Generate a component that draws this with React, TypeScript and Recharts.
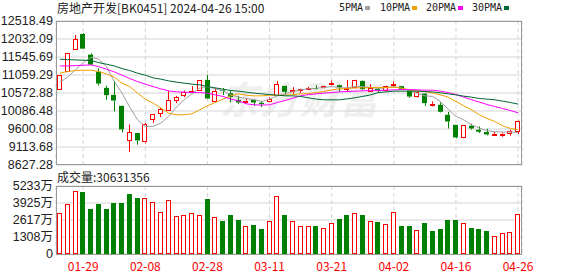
import { Bar, CartesianGrid, ComposedChart, Line, XAxis, YAxis } from 'recharts'

const dates = [
  '01-24', '01-25', '01-26', '01-29', '01-30', '01-31', '02-01', '02-02', '02-05', '02-06',
  '02-07', '02-08', '02-19', '02-20', '02-21', '02-22', '02-23', '02-26', '02-27', '02-28',
  '02-29', '03-01', '03-04', '03-05', '03-06', '03-07', '03-08', '03-11', '03-12', '03-13',
  '03-14', '03-15', '03-18', '03-19', '03-20', '03-21', '03-22', '03-25', '03-26', '03-27',
  '03-28', '03-29', '04-01', '04-02', '04-03', '04-08', '04-09', '04-10', '04-11', '04-12',
  '04-15', '04-16', '04-17', '04-18', '04-19', '04-22', '04-23', '04-24', '04-25', '04-26',
]

const opens = [
  10650, 11135, 11736, 12168, 11610, 11151, 10712, 10523, 10226, 9275,
  9491, 9237, 9849, 10011, 10084, 10353, 10496, 10604, 10623, 10927,
  10326, 10650, 10569, 10388, 10316, 10388, 10308, 10334, 10496, 10766,
  10596, 10631, 10690, 10704, 10704, 10793, 10785, 10677, 10693, 10900,
  10612, 10677, 10631, 10747, 10758, 10631, 10461, 10558, 10219, 10254,
  9984, 9714, 9356, 9687, 9580, 9518, 9462, 9470, 9464, 9518,
]
const highs = [
  11062, 11647, 12141, 12190, 11647, 11243, 10774, 10900, 10230, 9722,
  9491, 9760, 10003, 10181, 10623, 10496, 10639, 10758, 10919, 11062,
  10700, 10704, 10631, 10496, 10415, 10400, 10362, 10461, 10900, 10770,
  10731, 10690, 10740, 10785, 10770, 10909, 10800, 10927, 10930, 10910,
  10812, 10700, 10770, 10893, 10770, 10640, 10610, 10570, 10343, 10316,
  10065, 9714, 9700, 9741, 9668, 9607, 9530, 9510, 9580, 9830,
]
const lows = [
  10650, 11135, 11736, 11771, 11340, 10774, 10388, 10073, 9507, 8978,
  9175, 9210, 9760, 9922, 10084, 10299, 10461, 10569, 10623, 10423,
  10326, 10520, 10316, 10272, 10300, 10226, 10192, 10320, 10496, 10523,
  10550, 10577, 10650, 10670, 10690, 10780, 10612, 10604, 10680, 10650,
  10600, 10580, 10620, 10730, 10650, 10442, 10450, 10226, 10210, 10050,
  9615, 9345, 9350, 9580, 9490, 9426, 9420, 9390, 9418, 9464,
]
const closes = [
  11062, 11647, 12025, 11771, 11340, 10828, 10515, 10369, 9588, 9518,
  9291, 9733, 10003, 10137, 10388, 10461, 10604, 10631, 10919, 10423,
  10631, 10630, 10461, 10316, 10370, 10316, 10272, 10424, 10811, 10604,
  10650, 10685, 10704, 10690, 10758, 10846, 10731, 10720, 10919, 10677,
  10712, 10631, 10758, 10812, 10666, 10477, 10604, 10299, 10280, 10065,
  9804, 9372, 9695, 9615, 9526, 9453, 9470, 9478, 9545, 9814,
]

const ma5 = [
  10866, 11001, 11197, 11394, 11540, 11486, 11286, 10882, 10569, 10192,
  9849, 9669, 9669, 9760, 9938, 10192, 10389, 10550, 10704, 10747,
  10685, 10639, 10523, 10461, 10424, 10389, 10343, 10408, 10496, 10550,
  10612, 10658, 10685, 10704, 10720, 10747, 10720, 10712, 10747, 10747,
  10720, 10693, 10720, 10747, 10704, 10639, 10569, 10496, 10480, 10343,
  10138, 9938, 9849, 9715, 9626, 9553, 9526, 9518, 9518, 9507,
]
const ma10 = [
  11108, 11152, 11179, 11189, 11189, 11152, 11090, 11001, 10839, 10747,
  10569, 10408, 10300, 10165, 10030, 9984, 9984, 10011, 10119, 10227,
  10316, 10408, 10496, 10550, 10515, 10496, 10496, 10515, 10505, 10515,
  10531, 10550, 10558, 10585, 10612, 10658, 10685, 10693, 10712, 10712,
  10720, 10720, 10720, 10731, 10704, 10658, 10631, 10612, 10569, 10523,
  10461, 10343, 10227, 10119, 9984, 9884, 9803, 9688, 9615, 9580,
]
const ma20 = [
  11305, 11305, 11313, 11324, 11332, 11286, 11216, 11144, 11055, 10963,
  10882, 10812, 10747, 10685, 10631, 10604, 10596, 10585, 10585, 10569,
  10523, 10480, 10408, 10362, 10281, 10254, 10246, 10254, 10316, 10370,
  10434, 10496, 10531, 10550, 10569, 10585, 10604, 10612, 10623, 10631,
  10639, 10639, 10650, 10658, 10666, 10666, 10658, 10650, 10650, 10623,
  10585, 10531, 10461, 10389, 10327, 10262, 10208, 10154, 10100, 10038,
]
const ma30 = [
  11486, 11475, 11467, 11459, 11448, 11394, 11351, 11305, 11232, 11179,
  11108, 11055, 10982, 10947, 10901, 10866, 10839, 10812, 10793, 10747,
  10712, 10677, 10639, 10623, 10596, 10569, 10550, 10531, 10515, 10496,
  10496, 10480, 10443, 10408, 10389, 10389, 10389, 10415, 10443, 10480,
  10523, 10585, 10604, 10623, 10623, 10623, 10623, 10612, 10604, 10577,
  10550, 10523, 10488, 10461, 10424, 10408, 10389, 10354, 10316, 10273,
]

// 成交量, 单位: 万
const volumes = [
  3117, 3886, 4835, 4733, 3500, 3810, 3425, 3963, 3963, 4580,
  4325, 4325, 4017, 3248, 4170, 2910, 3017, 3170, 3017, 4250,
  2833, 2555, 3017, 2633, 2170, 2248, 1940, 2555, 4480, 3017,
  2555, 2170, 2170, 2170, 2017, 2402, 2710, 3017, 3170, 3017,
  2555, 2480, 2325, 3248, 2170, 2170, 1863, 2402, 1733, 1940,
  2633, 2633, 2402, 2017, 1940, 1786, 1402, 1632, 1710, 3063,
]

const priceTicks = [8627.28, 9113.68, 9600.08, 10086.48, 10572.88, 11059.29, 11545.69, 12032.09, 12518.49]
const volTicks = [0, 1308, 2617, 3925, 5233]
const dateTicks = ['01-29', '02-08', '02-28', '03-11', '03-21', '04-02', '04-16', '04-26']

const RED = '#ff0000'
const GREEN = '#008000'
const GRID = '#d4d4d4'
const BORDER = '#999999'
const CJK = '"Noto Sans CJK SC", sans-serif'
const MONO = '"DejaVu Sans Mono", "Liberation Mono", monospace'

const rows = dates.map((date, i) => ({
  date,
  open: opens[i],
  high: highs[i],
  low: lows[i],
  close: closes[i],
  range: [lows[i], highs[i]],
  ma5: ma5[i],
  ma10: ma10[i],
  ma20: ma20[i],
  ma30: ma30[i],
  vol: volumes[i],
  volUp: i === 0 ? closes[0] >= opens[0] : closes[i] >= closes[i - 1],
}))

function Candle(props: any) {
  const { x, y, width, height, payload } = props
  if (x == null || y == null) return null
  const top = Math.min(y, y + height)
  const h = Math.abs(height)
  const k = h / (payload.high - payload.low)
  const yOpen = top + (payload.high - payload.open) * k
  const yClose = top + (payload.high - payload.close) * k
  const up = payload.close >= payload.open
  const color = up ? RED : GREEN
  const cx = Math.round(x + width / 2) + 0.5
  const bTop = Math.min(yOpen, yClose)
  const bH = Math.max(Math.abs(yOpen - yClose), 1)
  const bx = Math.round(x + width / 2 - 2.5)
  return (
    <g>
      <line x1={cx} x2={cx} y1={top} y2={bTop} stroke={color} strokeWidth={1} />
      <line x1={cx} x2={cx} y1={bTop + bH} y2={top + h} stroke={color} strokeWidth={1} />
      {up ? (
        <rect x={bx + 0.5} y={Math.round(bTop) + 0.5} width={4} height={Math.max(Math.round(bH) - 1, 1)} fill="#fff" stroke={color} strokeWidth={1} />
      ) : (
        <rect x={bx} y={bTop} width={5} height={bH} fill={color} />
      )}
    </g>
  )
}

function VolBar(props: any) {
  const { x, y, width, height, payload } = props
  if (x == null || y == null || !height) return null
  const bx = Math.round(x + width / 2 - 2.5)
  const top = Math.round(y)
  const h = Math.round(y + height) - top
  if (payload.volUp) {
    return <rect x={bx + 0.5} y={top + 0.5} width={4} height={h - 1} fill="#fff" stroke={RED} strokeWidth={1} />
  }
  return <rect x={bx} y={top} width={5} height={h} fill={GREEN} />
}

const axisTick = { fontSize: 12.5, fill: '#222', fontFamily: 'Arial, "Liberation Sans", "Noto Sans CJK SC", sans-serif' }

const legendItems = [
  { name: '5PMA', color: '#a0a0a0', left: 339 },
  { name: '10PMA', color: '#f0a000', left: 380 },
  { name: '20PMA', color: '#ff00ff', left: 426 },
  { name: '30PMA', color: '#006633', left: 472 },
]

export default function App() {
  return (
    <div style={{ position: 'absolute', left: 0, top: 0, width: 578, height: 276, background: '#fff', overflow: 'hidden' }}>
      <div style={{ position: 'absolute', left: 220, top: 70, fontFamily: CJK, fontSize: 38, fontWeight: 700, fontStyle: 'italic', color: '#efefef', letterSpacing: 2 }}>
        东方财富
      </div>
      <div style={{ position: 'absolute', left: 57, top: 0, fontFamily: CJK, fontSize: 12, lineHeight: '16px', color: '#222', whiteSpace: 'nowrap' }}>
        房地产开发[BK0451] 2024-04-26 15:00
      </div>
      {legendItems.map((it) => (
        <div key={it.name} style={{ position: 'absolute', left: it.left, top: 0, fontFamily: MONO, fontSize: 10, lineHeight: '16px', color: '#222', whiteSpace: 'nowrap', display: 'flex', alignItems: 'center' }}>
          {it.name}
          <span style={{ display: 'inline-block', width: 5, height: 4, background: it.color, marginLeft: 2 }} />
        </div>
      ))}
      <div style={{ position: 'absolute', left: 57, top: 169, fontFamily: CJK, fontSize: 12, lineHeight: '16px', color: '#222', whiteSpace: 'nowrap' }}>
        成交量:30631356
      </div>

      <div style={{ position: 'absolute', left: 0, top: 0 }}>
        <ComposedChart width={578} height={178} data={rows} margin={{ top: 21, right: 56, bottom: 13, left: 0 }}>
          <CartesianGrid horizontal vertical={false} stroke={GRID} />
          <CartesianGrid horizontal={false} vertical stroke={GRID} strokeDasharray="4 3" />
          <XAxis dataKey="date" ticks={dateTicks} hide />
          <YAxis
            domain={[8627.28, 12518.49]}
            ticks={priceTicks}
            interval={0}
            width={56}
            tickLine={false}
            axisLine={false}
            tickSize={0}
            tickMargin={3}
            tick={axisTick}
            tickFormatter={(v: number) => v.toFixed(2)}
            allowDataOverflow
          />
          <Bar dataKey="range" barSize={5} shape={<Candle />} isAnimationActive={false} />
          <Line type="linear" dataKey="ma5" stroke="#a0a0a0" strokeWidth={1} dot={false} activeDot={false} isAnimationActive={false} />
          <Line type="linear" dataKey="ma10" stroke="#f0a000" strokeWidth={1} dot={false} activeDot={false} isAnimationActive={false} />
          <Line type="linear" dataKey="ma20" stroke="#ff00ff" strokeWidth={1} dot={false} activeDot={false} isAnimationActive={false} />
          <Line type="linear" dataKey="ma30" stroke="#006633" strokeWidth={1} dot={false} activeDot={false} isAnimationActive={false} />
        </ComposedChart>
      </div>

      <div style={{ position: 'absolute', left: 0, top: 170 }}>
        <ComposedChart width={578} height={106} data={rows} margin={{ top: 16, right: 56, bottom: 0, left: 0 }}>
          <CartesianGrid horizontal vertical={false} stroke={GRID} />
          <CartesianGrid horizontal={false} vertical stroke={GRID} strokeDasharray="4 3" />
          <XAxis
            dataKey="date"
            ticks={dateTicks}
            interval={0}
            height={22}
            tickLine={false}
            axisLine={false}
            tick={{ fontSize: 12, fill: RED, fontFamily: CJK }}
          />
          <YAxis
            domain={[0, 5233]}
            ticks={volTicks}
            interval={0}
            width={56}
            tickLine={false}
            axisLine={false}
            tickSize={0}
            tickMargin={3}
            tick={axisTick}
            tickFormatter={(v: number) => (v === 0 ? '0' : `${v}万`)}
          />
          <Bar dataKey="vol" barSize={5} shape={<VolBar />} isAnimationActive={false} />
        </ComposedChart>
      </div>

      <div style={{ position: 'absolute', left: 56, top: 21, width: 466, height: 144, border: `1px solid ${BORDER}`, boxSizing: 'border-box', pointerEvents: 'none' }} />
      <div style={{ position: 'absolute', left: 56, top: 186, width: 466, height: 69, border: `1px solid ${BORDER}`, boxSizing: 'border-box', pointerEvents: 'none' }} />
    </div>
  )
}
